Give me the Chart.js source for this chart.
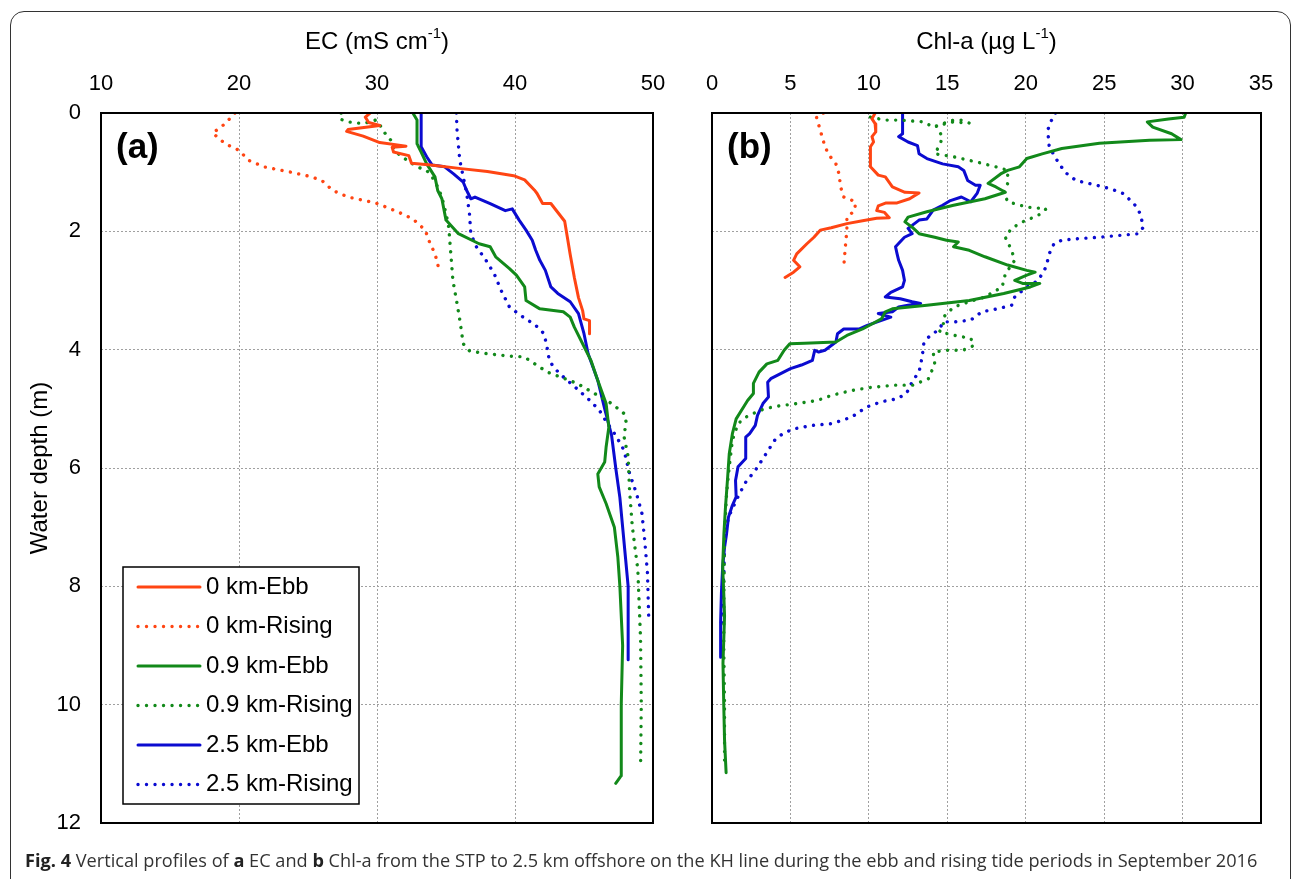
<!DOCTYPE html>
<html>
<head>
<meta charset="utf-8">
<script src="https://cdn.jsdelivr.net/npm/chart.js@4.4.1/dist/chart.umd.min.js"></script>
<style>
  html, body { margin: 0; padding: 0; background: #fff; width: 1293px; height: 879px; overflow: hidden; }
  #frame { position: absolute; left: 10px; top: 11px; width: 1281px; height: 900px;
           border: 1.5px solid #333; border-radius: 14px; box-sizing: border-box; }
  #chartA { position: absolute; left: 0; top: 0; }
  #chartB { position: absolute; left: 680px; top: 0; }
  #caption { position: absolute; left: 25px; top: 847px; font-family: 'Open Sans', sans-serif;
             font-size: 20px; line-height: 27px; color: #333; white-space: nowrap; }
  #caption b { color: #222; }
</style>
</head>
<body>
<div id="frame"></div>
<canvas id="chartA" width="700" height="879"></canvas>
<canvas id="chartB" width="613" height="879"></canvas>
<div id="caption"><b>Fig. 4</b> Vertical profiles of <b>a</b> EC and <b>b</b> Chl-a from the STP to 2.5 km offshore on the KH line during the ebb and rising tide periods in September 2016</div>
<script>
// series names, in legend order
const seriesNames = ['0 km-Ebb', '0 km-Rising', '0.9 km-Ebb', '0.9 km-Rising', '2.5 km-Ebb', '2.5 km-Rising'];

// tick labels
const ecTicks = [10, 20, 30, 40, 50];
const chlTicks = [0, 5, 10, 15, 20, 25, 30, 35];
const depthTicks = [0, 2, 4, 6, 8, 10, 12];

// EC profiles, [value mS/cm, depth m]
const ec0Ebb = [[29.5,0],[29.15,0.07],[29.4,0.16],[30.2,0.21],[27.9,0.28],[27.8,0.31],[29.0,0.39],[30.2,0.5],[32.1,0.56],[31.1,0.58],[31.2,0.66],[32.3,0.72],[32.5,0.85],[33.9,0.88],[36.1,0.94],[38.0,0.99],[39.9,1.06],[40.7,1.13],[41.4,1.3],[41.6,1.36],[42.0,1.53],[42.6,1.53],[43.6,1.83],[43.8,2.11],[44.0,2.39],[44.3,2.78],[44.6,3.12],[44.9,3.34],[45.0,3.48],[45.4,3.51],[45.4,3.73]];
const ec0Rise = [[19.7,0],[19.0,0.18],[18.1,0.34],[19.0,0.52],[20.0,0.63],[20.7,0.8],[21.8,0.91],[23.75,1.0],[25.1,1.07],[26.0,1.14],[26.8,1.31],[27.9,1.42],[29.9,1.52],[31.5,1.67],[32.6,1.79],[33.5,1.98],[33.75,2.15],[34.2,2.38],[34.4,2.55],[34.5,2.69]];
const ec09Ebb = [[32.6,0],[32.9,0.12],[32.9,0.52],[33.2,0.66],[33.6,0.86],[34.2,1.08],[34.4,1.31],[34.7,1.45],[35.0,1.81],[35.9,2.04],[37.4,2.21],[38.2,2.26],[38.6,2.43],[39.6,2.63],[40.1,2.74],[40.7,2.94],[40.8,3.17],[41.8,3.31],[43.5,3.36],[44.0,3.45],[44.3,3.62],[44.9,3.9],[45.5,4.18],[46.0,4.52],[46.6,4.91],[46.8,5.31],[46.6,5.65],[46.5,5.9],[46.0,6.1],[46.1,6.32],[46.6,6.6],[47.2,7.0],[47.45,7.5],[47.6,8.0],[47.8,9.0],[47.7,10.0],[47.7,11.2],[47.3,11.33]];
const ec09Rise = [[27.4,0],[27.3,0.1],[27.9,0.15],[29.0,0.18],[29.9,0.12],[30.1,0.15],[30.4,0.29],[31.0,0.46],[31.25,0.63],[31.8,0.74],[32.4,0.83],[32.9,0.91],[33.6,0.97],[34.0,1.08],[34.4,1.25],[34.7,1.42],[35.0,1.7],[35.2,1.93],[35.35,2.38],[35.5,2.83],[35.8,3.22],[36.0,3.5],[36.25,3.9],[36.7,4.02],[37.7,4.06],[39.6,4.11],[40.65,4.12],[42.35,4.38],[44.5,4.57],[47.0,4.91],[47.9,5.08],[48.05,5.22],[47.9,5.47],[48.2,5.81],[48.3,6.37],[48.5,6.99],[48.9,7.72],[49.1,8.9],[49.15,10.0],[49.1,11.07]];
const ec25Ebb = [[33.2,0],[33.2,0.57],[33.6,0.74],[34.0,0.88],[34.9,0.91],[35.55,1.03],[36.25,1.17],[36.5,1.31],[36.8,1.45],[37.1,1.42],[38.2,1.53],[39.3,1.65],[39.8,1.62],[40.3,1.81],[40.8,1.98],[41.25,2.15],[41.5,2.32],[41.8,2.49],[42.2,2.66],[42.6,2.94],[43.1,3.05],[44.0,3.19],[44.6,3.39],[45.0,3.73],[45.3,4.07],[46.0,4.52],[46.5,5.0],[47.0,5.45],[47.3,6.0],[47.6,6.5],[47.8,7.0],[48.0,7.5],[48.2,8.0],[48.2,9.24]];
const ec25Rise = [[35.75,0],[35.8,0.29],[36.0,0.8],[36.25,1.08],[36.5,1.36],[36.7,1.7],[36.8,2.04],[37.2,2.26],[37.9,2.49],[38.5,2.72],[39.0,3.0],[39.6,3.28],[40.4,3.42],[41.5,3.59],[42.1,3.73],[42.3,3.93],[42.5,4.2],[43.2,4.4],[44.05,4.57],[45.3,4.83],[46.1,5.02],[46.7,5.25],[47.3,5.45],[47.9,5.7],[48.3,6.09],[48.8,6.43],[49.2,6.77],[49.4,7.22],[49.6,7.78],[49.7,8.62]];

// Chl-a profiles, [value ug/L, depth m]
const chl0Ebb = [[10.4,0],[10.2,0.1],[10.4,0.18],[10.44,0.32],[10.2,0.4],[10.3,0.49],[10.1,0.57],[10.1,0.91],[10.6,1.05],[11.05,1.08],[11.5,1.25],[12.3,1.34],[13.2,1.35],[12.6,1.45],[11.8,1.52],[11.1,1.52],[10.6,1.57],[10.5,1.65],[11.0,1.68],[11.3,1.77],[10.5,1.78],[9.6,1.82],[8.6,1.87],[7.6,1.94],[6.9,1.98],[6.5,2.1],[6.05,2.21],[5.4,2.38],[5.2,2.49],[5.6,2.6],[5.2,2.69],[4.66,2.78]];
const chl0Rise = [[7.1,0],[6.66,0.07],[6.9,0.29],[7.15,0.52],[7.4,0.69],[7.9,0.86],[8.1,1.03],[8.2,1.25],[8.4,1.42],[9.15,1.5],[9.1,1.65],[8.6,1.76],[8.6,1.98],[8.5,2.26],[8.4,2.6]];
const chl09Ebb = [[30.2,0],[30.1,0.07],[29.1,0.1],[27.75,0.15],[28.1,0.24],[29.3,0.35],[29.9,0.45],[27.9,0.46],[24.7,0.51],[22.3,0.6],[21.05,0.69],[20.07,0.77],[19.6,0.91],[18.85,0.97],[18.4,1.03],[17.6,1.19],[18.1,1.25],[18.7,1.34],[17.4,1.45],[15.4,1.56],[13.7,1.67],[12.5,1.76],[12.3,1.84],[12.76,1.93],[13.2,2.04],[14.2,2.1],[14.95,2.15],[15.7,2.18],[15.4,2.26],[16.4,2.32],[17.4,2.43],[18.85,2.57],[20.07,2.66],[20.6,2.69],[20.07,2.74],[19.3,2.83],[19.8,2.88],[20.9,2.88],[20.3,2.94],[18.6,3.05],[16.4,3.17],[13.7,3.25],[11.5,3.31],[11.05,3.36],[10.8,3.48],[9.6,3.65],[8.6,3.76],[7.9,3.87],[5.9,3.89],[4.96,3.9],[4.6,4.01],[4.2,4.18],[3.5,4.24],[3.0,4.38],[2.64,4.57],[2.64,4.74],[2.27,4.86],[1.54,5.17],[1.3,5.42],[1.1,5.76],[1.0,6.15],[0.86,6.66],[0.76,7.11],[0.68,7.67],[0.75,8.12],[0.8,8.5],[0.7,9.3],[0.75,10.0],[0.8,10.6],[0.9,11.15]];
const chl09Rise = [[10.1,0.07],[11.05,0.12],[12.0,0.12],[13.5,0.15],[14.1,0.24],[14.7,0.18],[15.4,0.12],[15.9,0.12],[16.4,0.17],[15.4,0.15],[14.3,0.22],[14.7,0.41],[14.5,0.55],[14.2,0.69],[15.4,0.74],[16.9,0.83],[18.1,0.91],[18.85,0.97],[18.85,1.19],[18.6,1.34],[18.85,1.5],[20.07,1.59],[21.3,1.62],[20.8,1.73],[19.8,1.84],[19.1,1.95],[18.7,2.1],[19.1,2.32],[19.3,2.49],[18.7,2.72],[18.5,2.94],[17.4,3.11],[16.4,3.19],[15.4,3.28],[14.75,3.45],[14.75,3.59],[14.5,3.7],[15.5,3.76],[16.5,3.81],[16.7,3.93],[16.0,4.01],[15.0,4.01],[14.1,4.04],[14.2,4.24],[13.8,4.49],[12.8,4.6],[11.6,4.6],[10.1,4.64],[8.9,4.69],[7.65,4.77],[6.7,4.86],[5.2,4.92],[4.0,4.96],[3.0,5.03],[2.15,5.14],[1.66,5.25],[1.3,5.53],[1.1,5.98],[0.93,6.43],[0.8,7.11],[0.76,8.12],[0.75,9.0],[0.8,10.0],[0.8,11.0]];
const chl25Ebb = [[12.15,0],[12.15,0.35],[11.9,0.4],[12.5,0.49],[13.1,0.55],[13.2,0.69],[13.7,0.77],[14.7,0.86],[15.7,0.91],[16.05,0.97],[16.3,1.14],[16.8,1.22],[17.1,1.22],[16.9,1.36],[16.5,1.5],[15.9,1.42],[15.2,1.48],[14.7,1.56],[14.1,1.64],[13.7,1.79],[13.2,1.81],[12.76,1.9],[12.5,1.95],[12.76,2.04],[12.27,2.1],[11.7,2.26],[11.8,2.38],[11.9,2.49],[12.15,2.66],[12.27,2.83],[12.15,2.94],[11.4,3.03],[11.05,3.11],[12.0,3.14],[12.76,3.19],[13.3,3.22],[12.5,3.25],[11.9,3.28],[11.5,3.36],[10.6,3.39],[11.4,3.45],[9.9,3.59],[9.4,3.65],[8.4,3.65],[8.0,3.73],[7.9,3.87],[7.2,4.01],[6.8,4.04],[6.55,4.01],[6.4,4.18],[5.7,4.26],[5.0,4.32],[3.75,4.49],[3.55,4.55],[3.6,4.8],[3.25,4.91],[2.9,5.11],[2.76,5.28],[2.4,5.42],[2.15,5.48],[2.15,5.84],[1.66,5.98],[1.5,6.21],[1.54,6.49],[1.3,6.63],[1.05,6.83],[0.93,7.11],[0.8,7.34],[0.68,7.67],[0.6,8.12],[0.55,8.6],[0.55,9.2]];
const chl25Rise = [[21.9,0],[21.65,0.12],[21.4,0.29],[21.5,0.57],[22.0,0.8],[22.5,1.0],[23.2,1.14],[24.5,1.22],[25.4,1.28],[26.2,1.36],[26.9,1.53],[27.3,1.7],[27.5,1.93],[27.2,2.04],[25.9,2.07],[24.7,2.1],[23.5,2.12],[22.3,2.15],[21.8,2.21],[21.5,2.38],[21.3,2.6],[20.8,2.83],[20.07,2.94],[19.3,3.11],[19.1,3.25],[18.2,3.31],[17.2,3.36],[16.5,3.5],[15.5,3.53],[14.75,3.53],[14.5,3.65],[13.8,3.79],[13.5,3.9],[13.4,4.12],[13.2,4.38],[12.8,4.52],[12.4,4.74],[11.8,4.83],[10.8,4.88],[9.85,4.97],[8.9,5.14],[7.65,5.25],[6.4,5.28],[5.2,5.34],[4.5,5.42],[4.0,5.53],[3.25,5.84],[2.76,6.04],[2.15,6.24],[1.8,6.41],[1.54,6.55],[1.05,6.83],[0.8,7.22],[0.76,7.79],[0.68,8.12],[0.6,8.63]];

const RED = '#ff4513', GREEN = '#12891a', BLUE = '#0b0bd0';
const seriesColors = [RED, RED, GREEN, GREEN, BLUE, BLUE];
const DOTS = [0.01, 8.5];
const FONT = '"Liberation Sans", Arial, sans-serif';

function makeDatasets(profiles) {
  return profiles.map((pts, i) => {
    const dotted = i % 2 === 1;
    return {
      label: seriesNames[i],
      data: pts.map(([x, y]) => ({ x, y })),
      showLine: true,
      borderColor: seriesColors[i],
      backgroundColor: seriesColors[i],
      borderWidth: dotted ? 3.4 : 3,
      borderDash: dotted ? DOTS : [],
      borderCapStyle: 'round',
      borderJoinStyle: 'round',
      pointRadius: 0,
      tension: 0
    };
  });
}

// frame, panel tag, axis titles and the inset legend
const panelDecor = {
  id: 'panelDecor',
  afterDraw(chart, args, o) {
    const { ctx, chartArea: a } = chart;
    ctx.save();
    ctx.strokeStyle = '#000';
    ctx.lineWidth = 2;
    ctx.strokeRect(a.left, a.top, a.right - a.left, a.bottom - a.top);

    ctx.fillStyle = '#000';
    ctx.textBaseline = 'middle';
    ctx.font = 'bold 35px ' + FONT;
    ctx.fillText(o.tag, a.left + 15, a.top + 35);

    // top title with a superscript unit
    const big = '24px ' + FONT, small = '15px ' + FONT;
    ctx.font = big;
    const w1 = ctx.measureText(o.title[0]).width, w3 = ctx.measureText(o.title[2]).width;
    ctx.font = small;
    const w2 = ctx.measureText(o.title[1]).width;
    let x = (a.left + a.right) / 2 - (w1 + w2 + w3) / 2;
    const ty = 42;
    ctx.textAlign = 'left';
    ctx.font = big; ctx.fillText(o.title[0], x, ty); x += w1;
    ctx.font = small; ctx.fillText(o.title[1], x, ty - 8); x += w2;
    ctx.font = big; ctx.fillText(o.title[2], x, ty);

    if (o.yTitle) {
      ctx.save();
      ctx.translate(40, (a.top + a.bottom) / 2);
      ctx.rotate(-Math.PI / 2);
      ctx.textAlign = 'center';
      ctx.font = '24px ' + FONT;
      ctx.fillText(o.yTitle, 0, 0);
      ctx.restore();
    }

    if (o.legend) {
      const bx = 123, by = 567, bw = 236, bh = 237;
      ctx.fillStyle = '#fff';
      ctx.fillRect(bx, by, bw, bh);
      ctx.lineWidth = 1.5;
      ctx.strokeStyle = '#000';
      ctx.strokeRect(bx, by, bw, bh);
      chart.data.datasets.forEach((ds, i) => {
        const ry = by + 20 + i * 39.5;
        ctx.beginPath();
        ctx.strokeStyle = ds.borderColor;
        ctx.lineWidth = ds.borderWidth;
        ctx.lineCap = 'round';
        ctx.setLineDash(ds.borderDash);
        ctx.moveTo(138, ry);
        ctx.lineTo(200, ry);
        ctx.stroke();
        ctx.setLineDash([]);
        ctx.fillStyle = '#000';
        ctx.textAlign = 'left';
        ctx.font = '24px ' + FONT;
        ctx.fillText(ds.label, 206, ry);
      });
    }
    ctx.restore();
  }
};

function depthScale(showLabels, width) {
  return {
    type: 'linear',
    reverse: true,
    min: 0,
    max: 12,
    afterBuildTicks: s => { s.ticks = depthTicks.map(v => ({ value: v })); },
    afterFit: s => { s.width = width; },
    ticks: { display: showLabels, padding: 20, color: '#000', font: { family: FONT, size: 22 } },
    grid: { color: '#a0a0a0', lineWidth: 1, drawTicks: false },
    border: { display: false, dash: [2, 2] }
  };
}

function valueScale(tickList) {
  return {
    type: 'linear',
    position: 'top',
    min: tickList[0],
    max: tickList[tickList.length - 1],
    afterBuildTicks: s => { s.ticks = tickList.map(v => ({ value: v })); },
    afterFit: s => { s.height = 113; },
    ticks: { padding: 16, color: '#000', font: { family: FONT, size: 22 } },
    grid: { color: '#a0a0a0', lineWidth: 1, drawTicks: false },
    border: { display: false, dash: [2, 2] }
  };
}

const common = {
  responsive: false,
  animation: false,
  events: [],
  plugins: { legend: { display: false }, tooltip: { enabled: false } }
};

new Chart(document.getElementById('chartA'), {
  type: 'scatter',
  data: { datasets: makeDatasets([ec0Ebb, ec0Rise, ec09Ebb, ec09Rise, ec25Ebb, ec25Rise]) },
  options: Object.assign({}, common, {
    layout: { padding: { left: 0, top: 0, right: 47, bottom: 56 } },
    scales: { x: valueScale(ecTicks), y: depthScale(true, 101) },
    plugins: Object.assign({}, common.plugins, {
      panelDecor: { tag: '(a)', title: ['EC (mS cm', '-1', ')'], yTitle: 'Water depth (m)', legend: true }
    })
  }),
  plugins: [panelDecor]
});

new Chart(document.getElementById('chartB'), {
  type: 'scatter',
  data: { datasets: makeDatasets([chl0Ebb, chl0Rise, chl09Ebb, chl09Rise, chl25Ebb, chl25Rise]) },
  options: Object.assign({}, common, {
    layout: { padding: { left: 32, top: 0, right: 32, bottom: 56 } },
    scales: { x: valueScale(chlTicks), y: depthScale(false, 0) },
    plugins: Object.assign({}, common.plugins, {
      panelDecor: { tag: '(b)', title: ['Chl-a (\u00b5g L', '-1', ')'] }
    })
  }),
  plugins: [panelDecor]
});

// stretch the caption to span the frame
const cap = document.getElementById('caption');
const capW = cap.getBoundingClientRect().width;
cap.style.fontSize = (20 * 1233 / capW).toFixed(2) + 'px';
</script>
</body>
</html>
